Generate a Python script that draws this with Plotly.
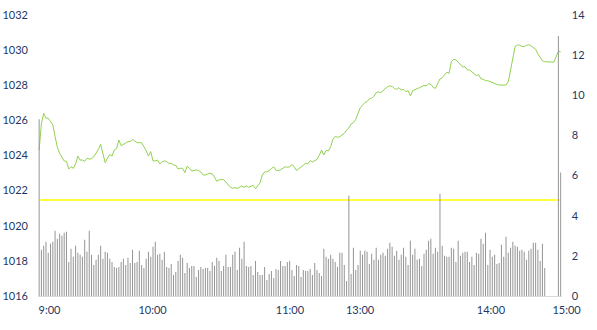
import plotly.graph_objects as go

# ---- data ----
price = [
    1024.31, 1025.83, 1026.40, 1026.12, 1026.12, 1025.93, 1025.74, 1025.08, 1024.46, 1024.12,
    1023.93, 1023.69, 1023.67, 1023.23, 1023.36, 1023.27, 1023.52, 1023.97, 1023.74, 1023.74,
    1023.67, 1023.84, 1023.80, 1023.82, 1023.93, 1024.12, 1024.35, 1024.64, 1024.02, 1023.59,
    1023.84, 1024.05, 1023.97, 1024.31, 1024.39, 1024.88, 1024.56, 1024.62, 1024.71, 1024.79,
    1024.79, 1024.92, 1024.84, 1024.73, 1024.73, 1024.73, 1024.50, 1024.28, 1023.97, 1024.22,
    1023.69, 1023.69, 1023.74, 1023.52, 1023.65, 1023.69, 1023.65, 1023.55, 1023.55, 1023.46,
    1023.44, 1023.23, 1023.27, 1023.27, 1023.02, 1023.40, 1023.27, 1023.12, 1023.14, 1023.18,
    1023.14, 1023.06, 1022.89, 1022.89, 1022.95, 1022.99, 1022.95, 1022.78, 1022.53, 1022.61,
    1022.63, 1022.63, 1022.49, 1022.32, 1022.19, 1022.13, 1022.17, 1022.13, 1022.19, 1022.26,
    1022.19, 1022.26, 1022.19, 1022.26, 1022.30, 1022.11, 1022.32, 1022.45, 1022.89, 1023.06,
    1023.08, 1023.14, 1023.25, 1023.36, 1023.16, 1023.14, 1023.18, 1023.29, 1023.36, 1023.33,
    1023.36, 1023.48, 1023.36, 1023.14, 1023.24, 1023.38, 1023.44, 1023.55, 1023.53, 1023.71,
    1023.63, 1023.71, 1023.78, 1024.01, 1024.31, 1024.03, 1024.29, 1024.26, 1024.50, 1024.92,
    1025.09, 1025.04, 1025.07, 1025.17, 1025.26, 1025.45, 1025.57, 1025.79, 1025.87, 1026.06,
    1026.44, 1026.72, 1026.86, 1027.01, 1027.07, 1027.22, 1027.26, 1027.37, 1027.58, 1027.62,
    1027.58, 1027.69, 1027.81, 1027.92, 1027.96, 1027.94, 1027.81, 1027.77, 1027.86, 1027.73,
    1027.77, 1027.64, 1027.69, 1027.39, 1027.69, 1027.73, 1027.81, 1027.86, 1027.92, 1027.99,
    1027.96, 1028.09, 1028.05, 1027.88, 1027.82, 1028.11, 1028.36, 1028.43, 1028.60, 1028.74,
    1028.68, 1029.34, 1029.48, 1029.44, 1029.31, 1029.17, 1029.04, 1029.06, 1028.87, 1028.87,
    1028.75, 1028.66, 1028.55, 1028.60, 1028.37, 1028.34, 1028.26, 1028.26, 1028.20, 1028.15,
    1028.11, 1028.05, 1028.01, 1028.01, 1028.01, 1028.01, 1028.20, 1028.87, 1029.53, 1030.20,
    1030.29, 1030.29, 1030.20, 1030.20, 1030.27, 1030.31, 1030.24, 1030.16, 1030.05, 1029.78,
    1029.55, 1029.40, 1029.34, 1029.32, 1029.32, 1029.32, 1029.32, 1029.62, 1029.93, 1029.91,
]

volume = [
    8.8, 2.3, 2.5, 2.7, 2.15, 2.6, 2.7, 3.25, 2.85, 3.1,
    3.0, 3.15, 3.2, 1.7, 2.35, 1.95, 2.5, 2.15, 2.05, 1.95,
    2.8, 2.2, 3.25, 2.05, 1.55, 1.8, 2.05, 2.5, 1.85, 2.2,
    2.15, 1.85, 1.7, 1.45, 1.4, 1.45, 1.7, 1.85, 1.55, 1.9,
    1.65, 2.3, 1.65, 1.7, 2.25, 1.55, 1.4, 1.85, 2.2, 1.95,
    2.45, 2.7, 2.05, 2.1, 1.8, 2.2, 1.45, 1.4, 1.6, 1.05,
    1.2, 1.75, 2.05, 1.9, 1.15, 1.65, 1.4, 1.5, 1.5, 0.95,
    1.3, 1.45, 1.35, 1.4, 1.4, 1.25, 1.7, 1.5, 1.9, 1.75,
    1.25, 1.5, 2.05, 1.45, 1.45, 2.05, 2.2, 1.3, 2.4, 1.85,
    2.7, 1.5, 1.45, 1.5, 1.05, 1.75, 1.2, 1.05, 1.05, 1.45,
    0.8, 1.1, 1.25, 0.9, 1.35, 1.3, 1.75, 1.5, 1.5, 1.7,
    1.75, 1.3, 1.0, 1.55, 1.5, 0.95, 1.3, 1.25, 1.25, 1.35,
    1.05, 1.65, 1.3, 1.15, 1.0, 2.35, 1.95, 1.85, 2.05, 1.85,
    1.7, 1.45, 2.15, 2.15, 1.55, 0.75, 5.0, 1.1, 2.4, 1.3,
    1.55, 2.25, 2.05, 2.25, 2.2, 1.6, 2.1, 1.8, 2.4, 1.8,
    2.05, 2.15, 2.0, 2.35, 2.65, 2.45, 2.0, 2.25, 1.8, 2.05,
    2.4, 1.95, 1.55, 2.75, 2.05, 2.35, 1.8, 1.85, 1.5, 2.1,
    2.3, 2.75, 2.85, 2.1, 2.4, 2.2, 5.1, 2.5, 2.0, 1.95,
    1.95, 2.4, 2.35, 1.7, 2.75, 2.0, 2.15, 2.2, 2.2, 1.7,
    1.95, 1.55, 2.15, 2.1, 2.85, 2.6, 3.15, 1.55, 2.3, 1.95,
    2.05, 1.6, 1.65, 2.55, 1.95, 2.95, 2.15, 2.4, 2.7, 2.5,
    2.45, 2.25, 2.3, 2.2, 1.8, 2.25, 2.35, 2.65, 2.65, 2.3,
    1.75, 2.6, 1.4, 0, 0, 0, 0, 0, 12.95, 6.15,
]

ref_level = 1021.47

tick_labels = ["9:00", "10:00", "11:00", "13:00", "14:00", "15:00"]
tick_positions = [4.55, 49.8, 110.15, 140.9, 198.4, 231.6]

left_ticks = [1016, 1018, 1020, 1022, 1024, 1026, 1028, 1030, 1032]
right_ticks = [0, 2, 4, 6, 8, 10, 12, 14]

# ---- figure ----
n = len(price)
x = list(range(n))

W, H = 597, 330
ML, MR, MT, MB = 38, 12, 15, 34
plot_right_px = 561.8
area_w = W - ML - MR
x_frac = (plot_right_px - ML) / area_w

font = dict(family="Lato, 'Liberation Sans', sans-serif", size=11, color="#1f3864")

fig = go.Figure()
fig.add_trace(go.Scatter(x=x, y=[ref_level] * n, mode="lines",
                         line=dict(color="#ffff00", width=1.5),
                         xaxis="x", yaxis="y", hoverinfo="skip"))
fig.add_trace(go.Scatter(x=x, y=price, mode="lines",
                         line=dict(color="#92d050", width=1),
                         xaxis="x", yaxis="y"))
fig.add_trace(go.Bar(x=x, y=volume,
                     marker=dict(color="rgba(150,150,150,0.99)", line=dict(width=0)),
                     xaxis="x", yaxis="y2"))
# carrier for the time labels axis
fig.add_trace(go.Scatter(x=[], y=[], xaxis="x2", yaxis="y", hoverinfo="skip"))

fig.update_layout(
    width=W, height=H,
    margin=dict(l=ML, r=MR, t=MT, b=MB, pad=0, autoexpand=False),
    paper_bgcolor="white",
    plot_bgcolor="rgba(0,0,0,0)",
    showlegend=False,
    bargap=0.55,
    font=font,
    xaxis=dict(domain=[0, x_frac], range=[-0.5, n - 0.5], showticklabels=False,
               showgrid=False, zeroline=False, showline=True, automargin=False,
               linecolor="#d9d9d9", linewidth=1, ticks=""),
    xaxis2=dict(domain=[0, 1], anchor="y", range=[-0.5, -0.5 + n / x_frac],
                tickmode="array", tickvals=tick_positions, ticktext=tick_labels,
                showgrid=False, zeroline=False, showline=False, ticks="",
                automargin=False, tickfont=font, ticklabelstandoff=6),
    yaxis=dict(range=[1016, 1032], tickmode="array", tickvals=left_ticks,
               showgrid=False, zeroline=False, showline=False, ticks="",
               automargin=False, tickfont=font, anchor="x", ticklabelstandoff=9),
    yaxis2=dict(range=[0, 14], tickmode="array", tickvals=right_ticks,
                overlaying="y", side="right", anchor="x", automargin=False,
                showgrid=False, zeroline=False, showline=False, ticks="",
                tickfont=font, ticklabelstandoff=9),
)

fig.write_html("out.html")
